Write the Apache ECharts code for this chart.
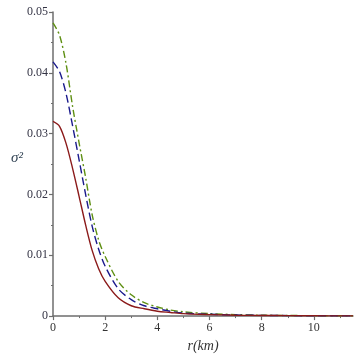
<!DOCTYPE html>
<html>
<head>
<meta charset="utf-8">
<script src="https://cdn.jsdelivr.net/npm/echarts@6/dist/echarts.min.js"></script>
<style>html,body{margin:0;padding:0;background:#fff;}#c{width:358px;height:358px;}</style>
</head>
<body>
<div id="c"></div>
<script>
var rValues = [0, 0.25, 0.5, 0.75, 1, 1.25, 1.5, 1.75, 2, 2.5, 3, 3.5, 4, 4.5, 5, 6, 7, 8, 9, 10, 11, 11.5];
var redSeries = [0.0320, 0.0312, 0.0284, 0.0243, 0.0197, 0.0150, 0.0108, 0.0078, 0.0057, 0.0030, 0.0017, 0.0012, 0.0008, 0.0006, 0.0004, 0.00025, 0.00015, 0.0001, 0.00008, 0.00005, 0.00004, 0.00003];
var blueSeries = [0.0418, 0.0402, 0.0366, 0.0313, 0.0257, 0.0200, 0.0148, 0.0110, 0.0082, 0.0045, 0.0027, 0.0017, 0.0012, 0.0008, 0.0005, 0.0003, 0.00018, 0.00012, 0.00008, 0.00006, 0.00004, 0.00003];
var greenSeries = [0.0482, 0.0462, 0.0415, 0.0345, 0.0285, 0.0228, 0.0167, 0.0125, 0.0098, 0.0057, 0.0035, 0.0022, 0.0015, 0.0010, 0.0007, 0.0004, 0.00025, 0.00015, 0.0001, 0.00007, 0.00005, 0.00004];
var xTicks = [0, 2, 4, 6, 8, 10];
var yTicks = [0, 0.01, 0.02, 0.03, 0.04, 0.05];

function pairs(ys) { return rValues.map(function (r, i) { return [r, ys[i]]; }); }

var axisGray = '#6e6e6e';
var font = '"Liberation Serif", "DejaVu Serif", serif';
var chart = echarts.init(document.getElementById('c'), null, {renderer: 'canvas'});
chart.setOption({
  backgroundColor: '#ffffff',
  animation: false,
  grid: {left: 53, right: 5, top: 12, bottom: 39, containLabel: false},
  xAxis: {
    type: 'value', min: 0, max: 11.5, interval: 2,
    name: 'r(km)', nameLocation: 'middle', nameGap: 18,
    nameTextStyle: {fontFamily: font, fontStyle: 'italic', fontSize: 14, color: '#333'},
    axisLine: {onZero: false, lineStyle: {color: axisGray, width: 1.5}},
    axisTick: {show: true, length: 4, lineStyle: {color: axisGray, width: 1.2}, customValues: xTicks},
    minorTick: {show: true, splitNumber: 2, length: 2, lineStyle: {color: axisGray}},
    axisLabel: {margin: 6, fontFamily: font, fontSize: 12, color: '#333', customValues: xTicks},
    splitLine: {show: false}
  },
  yAxis: {
    type: 'value', min: 0, max: 0.05, interval: 0.01,
    axisLine: {show: true, lineStyle: {color: axisGray, width: 1.5}},
    axisTick: {show: true, length: 4, lineStyle: {color: axisGray, width: 1.2}},
    minorTick: {show: true, splitNumber: 2, length: 2, lineStyle: {color: axisGray}},
    axisLabel: {margin: 5, fontFamily: font, fontSize: 12, color: '#334'},
    splitLine: {show: false}
  },
  graphic: [{
    type: 'text', left: 11, top: 151,
    style: {text: 'σ²', font: 'italic 15px ' + font, fill: '#345'}
  }],
  series: [
    {type: 'line', data: pairs(greenSeries), smooth: 0.3, showSymbol: false,
     lineStyle: {color: '#5e8f12', width: 1.4, type: [7, 3, 2, 3]}},
    {type: 'line', data: pairs(blueSeries), smooth: 0.3, showSymbol: false,
     lineStyle: {color: '#1a1a8c', width: 1.4, type: [8, 4]}},
    {type: 'line', data: pairs(redSeries), smooth: 0.3, showSymbol: false,
     lineStyle: {color: '#8b1a1a', width: 1.4}}
  ]
});
</script>
</body>
</html>
